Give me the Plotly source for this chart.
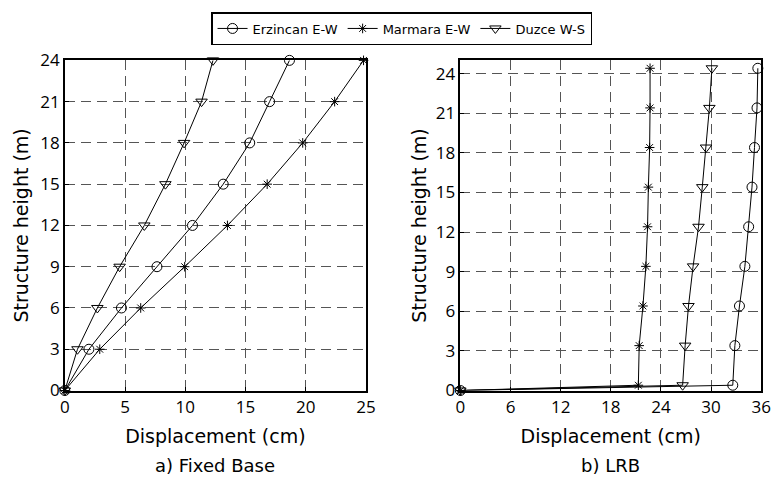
import plotly.graph_objects as go

# Fixed base (left)
heights_fixed = [0, 3, 6, 9, 12, 15, 18, 21, 24]
erz_fixed = [0, 2.0, 4.7, 7.65, 10.6, 13.15, 15.35, 17.0, 18.65]
mar_fixed = [0, 2.9, 6.3, 9.95, 13.5, 16.8, 19.75, 22.4, 24.8]
duz_fixed = [0, 1.05, 2.7, 4.55, 6.6, 8.35, 9.9, 11.35, 12.3]

# LRB (right)
heights_lrb = [0, 0.4, 3.4, 6.4, 9.4, 12.4, 15.4, 18.4, 21.4, 24.4]
erz_lrb = [0, 32.6, 32.85, 33.4, 34.05, 34.5, 34.9, 35.2, 35.5, 35.6]
mar_lrb = [0, 21.3, 21.4, 21.85, 22.2, 22.4, 22.5, 22.65, 22.7, 22.7]
duz_lrb = [0, 26.6, 26.9, 27.3, 27.85, 28.5, 28.95, 29.4, 29.8, 30.1]

names = ["Erzincan E-W", "Marmara E-W", "Duzce W-S"]
symbols = ["circle-open", "asterisk-open", "triangle-down-open"]
sizes = [10, 8, 10]

fig = go.Figure()
for name, sym, sz, xs in zip(names, symbols, sizes, [erz_fixed, mar_fixed, duz_fixed]):
    fig.add_trace(go.Scatter(x=xs, y=heights_fixed, mode="lines+markers", name=name,
                             line=dict(color="black", width=1),
                             marker=dict(symbol=sym, size=sz, color="black", line=dict(width=1, color="black")),
                             xaxis="x", yaxis="y", cliponaxis=False, showlegend=True))
for name, sym, sz, xs in zip(names, symbols, sizes, [erz_lrb, mar_lrb, duz_lrb]):
    fig.add_trace(go.Scatter(x=xs, y=heights_lrb, mode="lines+markers", name=name,
                             line=dict(color="black", width=1),
                             marker=dict(symbol=sym, size=sz, color="black", line=dict(width=1, color="black")),
                             xaxis="x2", yaxis="y2", cliponaxis=False, showlegend=False))

tickfont = dict(family="Open Sans", size=17, color="black")
titlefont = dict(family="DejaVu Sans", size=19, color="black")
common = dict(showline=True, linecolor="black", linewidth=1.5, mirror=True,
              showgrid=True, gridcolor="#555555", griddash="10px,6px", gridwidth=1,
              zeroline=False, ticks="inside", ticklen=4, tickcolor="black",
              tickfont=tickfont)

fig.update_layout(
    width=782, height=488,
    margin=dict(l=0, r=0, t=0, b=0),
    paper_bgcolor="white", plot_bgcolor="white",
    showlegend=True,
    legend=dict(orientation="h", x=0.517, xanchor="center", y=1.0, yanchor="top",
                bordercolor="black", borderwidth=1.5,
                font=dict(family="DejaVu Sans", size=13, color="black"),
                itemwidth=30, tracegroupgap=0),
    xaxis=dict(domain=[0.078, 0.4706], range=[0, 25], tickvals=[0, 5, 10, 15, 20, 25],
               title=dict(text="Displacement (cm)", font=titlefont, standoff=13), anchor="y", **common),
    yaxis=dict(domain=[0.186, 0.896], range=[0, 24], tickvals=[0, 3, 6, 9, 12, 15, 18, 21, 24],
               title=dict(text="Structure height (m)", font=titlefont, standoff=7), anchor="x", **common),
    xaxis2=dict(domain=[0.5937, 0.9859], range=[0, 36], tickvals=[0, 6, 12, 18, 24, 30, 36],
                title=dict(text="Displacement (cm)", font=titlefont, standoff=13), anchor="y2", **common),
    yaxis2=dict(domain=[0.186, 0.896], range=[0, 25], tickvals=[0, 3, 6, 9, 12, 15, 18, 21, 24],
                title=dict(text="Structure height (m)", font=titlefont, standoff=4), anchor="x2", **common),
    annotations=[
        dict(text="a) Fixed Base", x=(0.078 + 0.4706) / 2, y=(488 - 476) / 488, xref="paper", yref="paper",
             showarrow=False, font=dict(family="DejaVu Sans", size=18, color="black"), xanchor="center", yanchor="middle"),
        dict(text="b) LRB", x=(0.5937 + 0.9859) / 2, y=(488 - 476) / 488, xref="paper", yref="paper",
             showarrow=False, font=dict(family="DejaVu Sans", size=18, color="black"), xanchor="center", yanchor="middle"),
    ],
)

fig.write_html("out.html")
